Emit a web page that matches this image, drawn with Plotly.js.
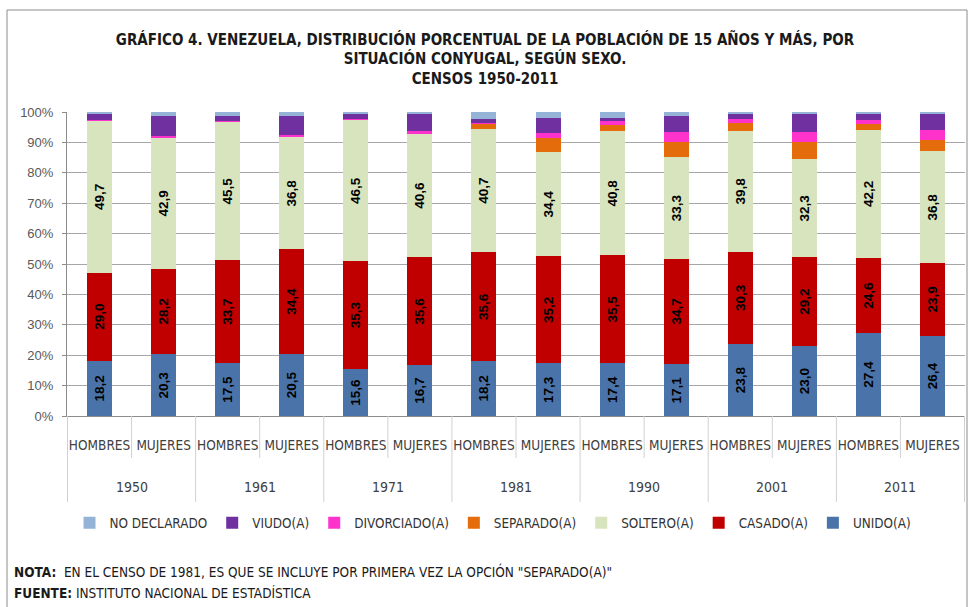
<!DOCTYPE html>
<html>
<head>
<meta charset="utf-8">
<script src="https://cdn.plot.ly/plotly-3.0.1.min.js"></script>
<style>
html,body{margin:0;padding:0;background:#fff;}
#chart{width:970px;height:607px;}
</style>
</head>
<body>
<div id="chart"></div>
<script>
// ---- data ----
var years = ['1950','1950','1961','1961','1971','1971','1981','1981','1990','1990','2001','2001','2011','2011'];
var sexes = ['HOMBRES','MUJERES','HOMBRES','MUJERES','HOMBRES','MUJERES','HOMBRES','MUJERES','HOMBRES','MUJERES','HOMBRES','MUJERES','HOMBRES','MUJERES'];
var yearLabels = ['1950','1961','1971','1981','1990','2001','2011'];
var yTickVals = [0,10,20,30,40,50,60,70,80,90,100];
var yTickText = ['0%','10%','20%','30%','40%','50%','60%','70%','80%','90%','100%'];

var unido      = [18.2,20.3,17.5,20.5,15.6,16.7,18.2,17.3,17.4,17.1,23.8,23.0,27.4,26.4];
var casado     = [29.0,28.2,33.7,34.4,35.3,35.6,35.6,35.2,35.5,34.7,30.3,29.2,24.6,23.9];
var soltero    = [49.7,42.9,45.5,36.8,46.5,40.6,40.7,34.4,40.8,33.3,39.8,32.3,42.2,36.8];
var separado   = [null,null,null,null,null,null,1.5,4.4,2.1,5.0,2.5,5.5,2.0,3.6];
var divorciado = [0.4,0.8,0.4,0.9,0.4,1.0,0.4,1.8,1.1,3.2,1.3,3.4,1.1,3.3];
var viudo      = [2.2,6.5,1.7,6.1,1.7,5.6,1.3,5.0,1.2,5.4,1.8,6.1,2.2,5.5];
var noDeclarado= [0.5,1.3,1.2,1.3,0.5,0.5,2.3,1.9,1.9,1.3,0.5,0.5,0.5,0.5];

var seriesNames = ['UNIDO(A)','CASADO(A)','SOLTERO(A)','SEPARADO(A)','DIVORCIADO(A)','VIUDO(A)','NO DECLARADO'];
var seriesColors = ['#4A74A9','#C00000','#D7E4BD','#E46C0A','#FF33CC','#7030A0','#95B3D7'];
var seriesValues = [unido, casado, soltero, separado, divorciado, viudo, noDeclarado];
var labelled = [true, true, true, false, false, false, false];

// ---- build ----
var FONT = "'DejaVu Sans Condensed','Liberation Sans Narrow','Arial Narrow',sans-serif";
var cats = years.map(function(y,i){ return y + ' ' + sexes[i]; });

var traces = seriesValues.map(function(vals, k){
  var t = {
    type: 'bar',
    name: seriesNames[k],
    x: cats,
    y: vals,
    marker: {color: seriesColors[k], line: {width: 0}},
    hoverinfo: 'name+y'
  };
  if (labelled[k]) {
    t.text = vals.map(function(v){ return v == null ? '' : v.toFixed(1).replace('.', ','); });
    t.textposition = 'inside';
    t.insidetextanchor = 'middle';
    t.textangle = -90;
    t.textfont = {family: 'Liberation Sans, Arial, sans-serif', size: 13.5, color: '#000', weight: 'bold'};
    t.constraintext = 'none';
  } else {
    t.textposition = 'none';
  }
  return t;
});

var L = 67, R = 5, T = 112, B = 191;
var W = 970, H = 607;
var pw = W - L - R, ph = H - T - B;
function px2x(px){ return (px - L) / pw; }
function px2y(py){ return (H - B - py) / ph; }

var shapes = [];
// category dividers under the axis
for (var i = 0; i <= cats.length; i++) {
  var isYear = (i % 2 === 0);
  shapes.push({
    type: 'line', xref: 'x', yref: 'paper',
    x0: i - 0.5, x1: i - 0.5,
    y0: 0, y1: isYear ? px2y(502) : px2y(458),
    line: {color: '#D0D0D0', width: 1}
  });
}
// chart-area border
shapes.push({
  type: 'rect', xref: 'paper', yref: 'paper',
  x0: px2x(7), x1: px2x(967), y0: px2y(620), y1: px2y(10),
  line: {color: '#8C8C8C', width: 1}, fillcolor: 'rgba(0,0,0,0)', layer: 'below'
});

var annotations = yearLabels.map(function(y, k){
  return {
    xref: 'x', yref: 'paper', x: 2*k + 0.5, y: px2y(487),
    text: y, showarrow: false, xanchor: 'center', yanchor: 'middle',
    font: {family: FONT, size: 14, color: '#404040'}
  };
});
annotations.push({
  xref: 'paper', yref: 'paper', x: px2x(12), y: px2y(571),
  xanchor: 'left', yanchor: 'middle', showarrow: false,
  text: '<b>NOTA:</b>  EN EL CENSO DE 1981, ES QUE SE INCLUYE POR PRIMERA VEZ LA OPCIÓN "SEPARADO(A)"',
  font: {family: FONT, size: 13.5, color: '#1a1a1a'}
});
annotations.push({
  xref: 'paper', yref: 'paper', x: px2x(12), y: px2y(593),
  xanchor: 'left', yanchor: 'middle', showarrow: false,
  text: '<b>FUENTE:</b> INSTITUTO NACIONAL DE ESTADÍSTICA',
  font: {family: FONT, size: 13.5, color: '#1a1a1a'}
});

var layout = {
  width: W, height: H,
  margin: {l: L, r: R, t: T, b: B, pad: 0},
  paper_bgcolor: '#fff', plot_bgcolor: '#fff',
  barmode: 'stack',
  bargap: 0.61,
  title: {
    text: 'GRÁFICO 4. VENEZUELA, DISTRIBUCIÓN PORCENTUAL DE LA POBLACIÓN DE 15 AÑOS Y MÁS, POR<br>SITUACIÓN CONYUGAL, SEGÚN SEXO.<br>CENSOS 1950-2011',
    x: 0.5, xanchor: 'center', xref: 'container',
    y: 0.926, yanchor: 'top', yref: 'container',
    font: {family: FONT, size: 15, color: '#1a1a1a', weight: 'bold'}
  },
  xaxis: {
    type: 'category',
    tickvals: cats, ticktext: sexes, tickangle: 0,
    showline: true, linecolor: '#8C8C8C', linewidth: 1,
    showgrid: false, zeroline: false,
    ticks: '', ticklabelstandoff: 17,
    tickfont: {family: FONT, size: 13.5, color: '#404040'},
    fixedrange: true
  },
  yaxis: {
    range: [0, 100],
    tickmode: 'array', tickvals: yTickVals, ticktext: yTickText,
    showline: true, linecolor: '#8C8C8C', linewidth: 1,
    ticks: 'outside', ticklen: 4, tickcolor: '#8C8C8C',
    showgrid: true, gridcolor: '#A6A6A6', gridwidth: 1,
    zeroline: false,
    tickfont: {family: 'Liberation Sans, Arial, sans-serif', size: 13, color: '#595959'},
    ticklabelstandoff: 6,
    fixedrange: true
  },
  showlegend: true,
  legend: {
    orientation: 'h', traceorder: 'reversed',
    x: px2x(493), xanchor: 'center', y: px2y(523), yanchor: 'middle',
    font: {family: FONT, size: 13.4, color: '#333333'},
    itemwidth: 30, bgcolor: 'rgba(0,0,0,0)'
  },
  shapes: shapes,
  annotations: annotations
};

Plotly.newPlot('chart', traces, layout, {displayModeBar: false, staticPlot: true});
</script>
</body>
</html>
